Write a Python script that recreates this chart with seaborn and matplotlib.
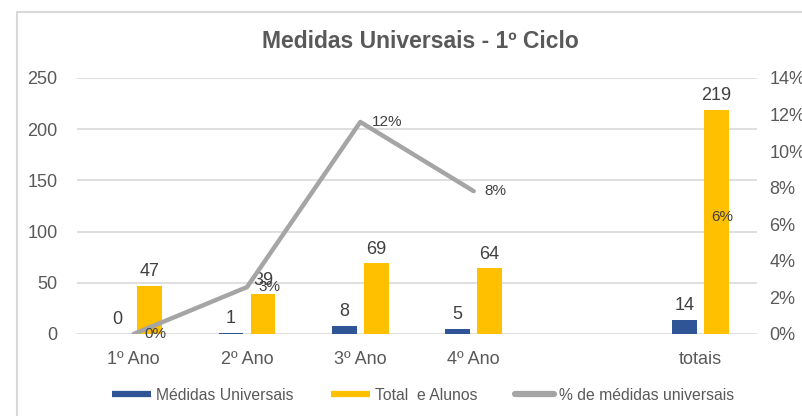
import numpy as np
import pandas as pd
import matplotlib
matplotlib.use("Agg")
import matplotlib.pyplot as plt
from matplotlib.lines import Line2D
from matplotlib.patches import Rectangle
from matplotlib.ticker import PercentFormatter
import seaborn as sns

# dados
anos = ["1º Ano", "2º Ano", "3º Ano", "4º Ano", "totais"]
medidas = [0, 1, 8, 5, 14]
alunos = [47, 39, 69, 64, 219]
ordem = ["1º Ano", "2º Ano", "3º Ano", "4º Ano", " ", "totais"]
serie_nomes = ["Médidas Universais", "Total  e Alunos"]
linha_nome = "% de médidas universais"

pct = [m / t for m, t in zip(medidas, alunos)]

df = pd.DataFrame({
    "ano": anos * 2,
    "valor": medidas + alunos,
    "serie": [serie_nomes[0]] * len(anos) + [serie_nomes[1]] * len(anos),
})

azul = "#2F5597"
amarelo = "#FFC000"
cinza = "#A5A5A5"
txt = "#595959"
lbl = "#404040"
grid = "#D9D9D9"

sns.set_style("white")
plt.rcParams["font.family"] = ["Liberation Sans", "DejaVu Sans"]

fig, ax = plt.subplots(figsize=(8.03, 4.16), dpi=100)
fig.subplots_adjust(left=77 / 803, right=757 / 803, bottom=1 - 334 / 416, top=1 - 78 / 416)

sns.barplot(data=df, x="ano", y="valor", hue="serie", order=ordem,
            hue_order=serie_nomes, palette=[azul, amarelo],
            width=0.565, gap=0.22, legend=False, ax=ax, saturation=1, linewidth=0)

for c in ax.containers:
    ax.bar_label(c, fmt="%d", padding=4, fontsize=13, color=lbl)

ax.set_ylim(0, 250)
ax.set_yticks(range(0, 251, 50))
ax.set_xlim(-0.5, 5.5)
ax.set_xlabel("")
ax.set_ylabel("")
ax.grid(axis="y", color=grid, lw=1.2)
ax.set_axisbelow(True)
for s in ax.spines.values():
    s.set_visible(False)
ax.tick_params(axis="y", length=0, pad=14, labelsize=13, labelcolor=txt)
ax.tick_params(axis="x", length=0, pad=12, labelsize=13, labelcolor=txt)

# linha da percentagem
ax2 = ax.twinx()
sns.lineplot(x=np.arange(4), y=pct[:4], color=cinza, lw=3.2, ax=ax2)
ax2.set_ylim(0, 0.14)
ax2.set_yticks(np.arange(0, 0.141, 0.02))
ax2.yaxis.set_major_formatter(PercentFormatter(1.0, decimals=0))
ax2.tick_params(axis="y", length=0, pad=9, labelsize=13, labelcolor=txt)
for s in ax2.spines.values():
    s.set_visible(False)

pos_pct = [0, 1, 2, 3, 5]
for x, p in zip(pos_pct, pct):
    ax2.annotate(f"{p:.0%}", (x, p), xytext=(8, 0), textcoords="offset points",
                 ha="left", va="center", fontsize=11, color=lbl)

fig.suptitle("Medidas Universais - 1º Ciclo", x=420 / 803, y=1 - 42 / 416, va="center",
             fontsize=16.5, fontweight="bold", color=txt)

handles = [Line2D([], [], color=azul, lw=4.5, solid_capstyle="butt"),
           Line2D([], [], color=amarelo, lw=4.5, solid_capstyle="butt"),
           Line2D([], [], color=cinza, lw=4.5, solid_capstyle="round")]
fig.legend(handles, serie_nomes + [linha_nome], loc="center", ncol=3,
           bbox_to_anchor=(423 / 803, 1 - 395 / 416), frameon=False,
           fontsize=11.3, labelcolor=txt, handlelength=2.5, handletextpad=0.3,
           columnspacing=2.4)

fig.patches.append(Rectangle((17 / 803, -0.1), 1.2, 1.1 - 12 / 416, transform=fig.transFigure,
                             fill=False, edgecolor=grid, lw=1.5))

fig.savefig("out.png", dpi=100, facecolor="white")
